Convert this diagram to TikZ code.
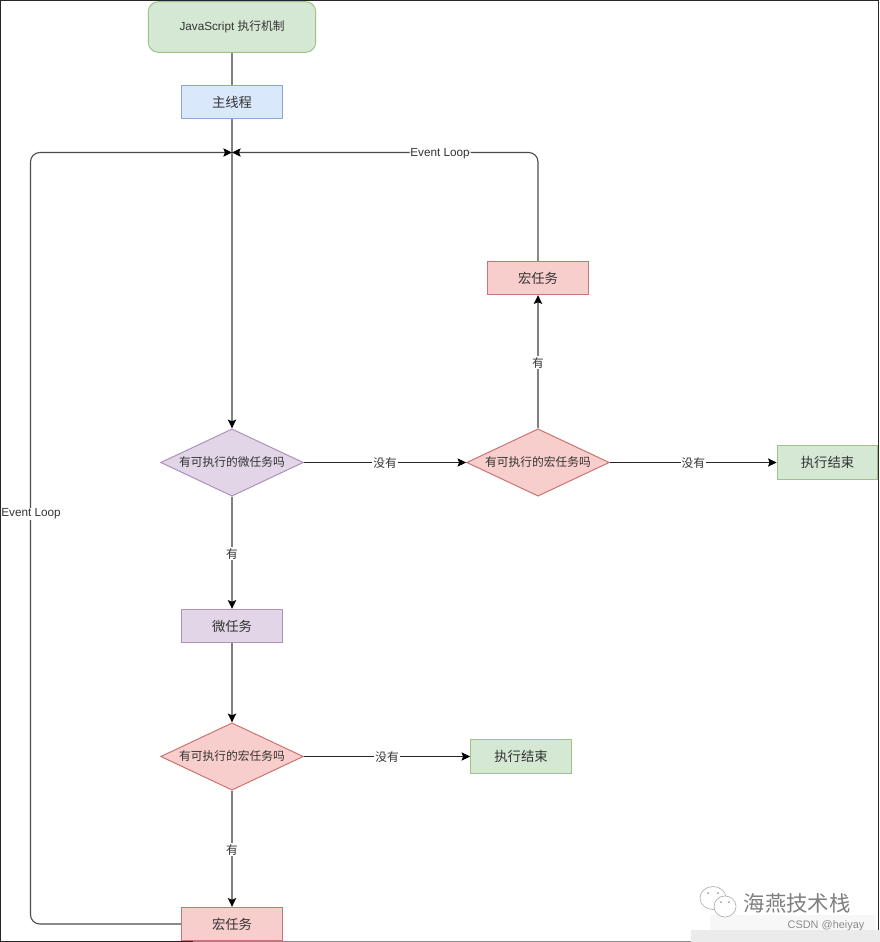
\documentclass[tikz,border=0pt]{standalone}
\usepackage{fontspec}
\setmainfont{Liberation Sans}
\newfontfamily\cjk{Noto Sans CJK SC}
\usetikzlibrary{shapes.geometric,arrows.meta}
\definecolor{gfill}{HTML}{D5E8D4}\definecolor{gline}{HTML}{9CC488}
\definecolor{bfill}{HTML}{DAE8FC}\definecolor{bline}{HTML}{8AA8D6}
\definecolor{rfill}{HTML}{F8CECC}\definecolor{rline}{HTML}{CC7470}
\definecolor{pfill}{HTML}{E1D5E7}\definecolor{pline}{HTML}{AE92BC}
\definecolor{ink}{HTML}{333333}
\tikzset{
  x=0.75pt,y=-0.75pt,
  box/.style={draw,line width=0.75pt,minimum width=75.5pt,minimum height=25pt,inner sep=0pt,text=ink,font=\cjk\fontsize{10}{12}\selectfont},
  greenbox/.style={box,draw=gline,fill=gfill},
  bluebox/.style={box,draw=bline,fill=bfill},
  redbox/.style={box,draw=rline,fill=rfill},
  purplebox/.style={box,draw=pline,fill=pfill},
  decision/.style={diamond,aspect=2.13,draw,line width=0.75pt,minimum width=107pt,minimum height=50.5pt,inner sep=0pt,text=ink,font=\cjk\fontsize{8.8}{10}\selectfont},
  tip/.style={-{Stealth[length=6.5pt,width=6.2pt,inset=1.2pt,color=black]}},
  hlink/.style={draw=black!85,line width=0.75pt,tip},
  vlink/.style={draw=black!50,line width=1.4pt,tip},
  vplain/.style={draw=black!50,line width=1.4pt},
  looplink/.style={draw=black!70,line width=0.85pt,tip,rounded corners=7pt},
  edgelabel/.style={fill=white,inner sep=0.6pt,yshift=-0.6pt,text=ink,font=\fontsize{8.8}{10}\selectfont},
}
\begin{document}
\begin{tikzpicture}
\useasboundingbox (0,0) rectangle (880,942);
\fill[white] (0,0) rectangle (880,942);
% screenshot frame
\draw[black!85,line width=1.1pt] (193,941.3) -- (0.7,941.3) -- (0.7,0.7) -- (878.6,0.7) -- (878.6,930);
\draw[black!45,line width=1pt] (193,941.3) -- (692,941.3);
% watermark strip
\fill[black!3] (710,915) rectangle (876,930);
\fill[black!8] (691,930) rectangle (880,942);
\node[text=black!45,font=\fontsize{8.2}{10}\selectfont] (csdn) at (826,925.5) {CSDN @heiyay};
\node[text=black!50,font=\cjk\fontsize{16}{20}\selectfont] (brand) at (797,903.5) {海燕技术栈};
\draw[black!30,line width=0.5pt,fill=white] (713,898) ellipse (13 and 11.5);
\draw[black!30,line width=0.5pt,fill=white] (725,906.5) ellipse (11 and 10.5);
\foreach \p in {(708,893),(718,893),(721,902),(729,902)} \fill[black!40] \p circle (1);

% nodes
\node[greenbox,rounded corners=7.5pt,minimum width=125.5pt,minimum height=38pt,font=\fontsize{8.8}{10}\selectfont] (start) at (232,27) {JavaScript {\cjk 执行机制}};
\node[bluebox] (main) at (232,102) {主线程};
\coordinate (join) at (232,152.5);
\node[decision,draw=pline,fill=pfill] (qmicro) at (232,462.5) {\raisebox{-0.5pt}{有可执行的微任务吗}};
\node[decision,draw=rline,fill=rfill] (qmacro1) at (538,462.5) {\raisebox{-0.5pt}{有可执行的宏任务吗}};
\node[redbox] (macro1) at (538,278) {宏任务};
\node[greenbox] (end1) at (827.5,462.5) {执行结束};
\node[purplebox] (micro) at (232,626) {微任务};
\node[decision,draw=rline,fill=rfill] (qmacro2) at (232,756.5) {\raisebox{-0.5pt}{有可执行的宏任务吗}};
\node[greenbox] (end2) at (521,756.5) {执行结束};
\node[redbox] (macro2) at (232,924) {宏任务};

% connectors
\draw[vplain] (start) -- (main);
\draw[vlink] (main) -- (qmicro);
\draw[vlink] (qmicro) -- node[edgelabel]{\cjk 有} (micro);
\draw[vlink] (micro) -- (qmacro2);
\draw[vlink] (qmacro2) -- node[edgelabel]{\cjk 有} (macro2);
\draw[hlink] (qmicro) -- node[edgelabel]{\cjk 没有} (qmacro1);
\draw[hlink] (qmacro1) -- node[edgelabel]{\cjk 没有} (end1);
\draw[hlink] (qmacro2) -- node[edgelabel]{\cjk 没有} (end2);
\draw[vlink] (qmacro1) -- node[edgelabel]{\cjk 有} (macro1);
\draw[looplink] (macro1.north) |- node[edgelabel,pos=0.66]{Event Loop} (join);
\draw[looplink] (macro2.west) -| (30.5,152.5) -- (join);
\node[edgelabel] (loopleft) at (31,513) {Event Loop};
\end{tikzpicture}
\end{document}
